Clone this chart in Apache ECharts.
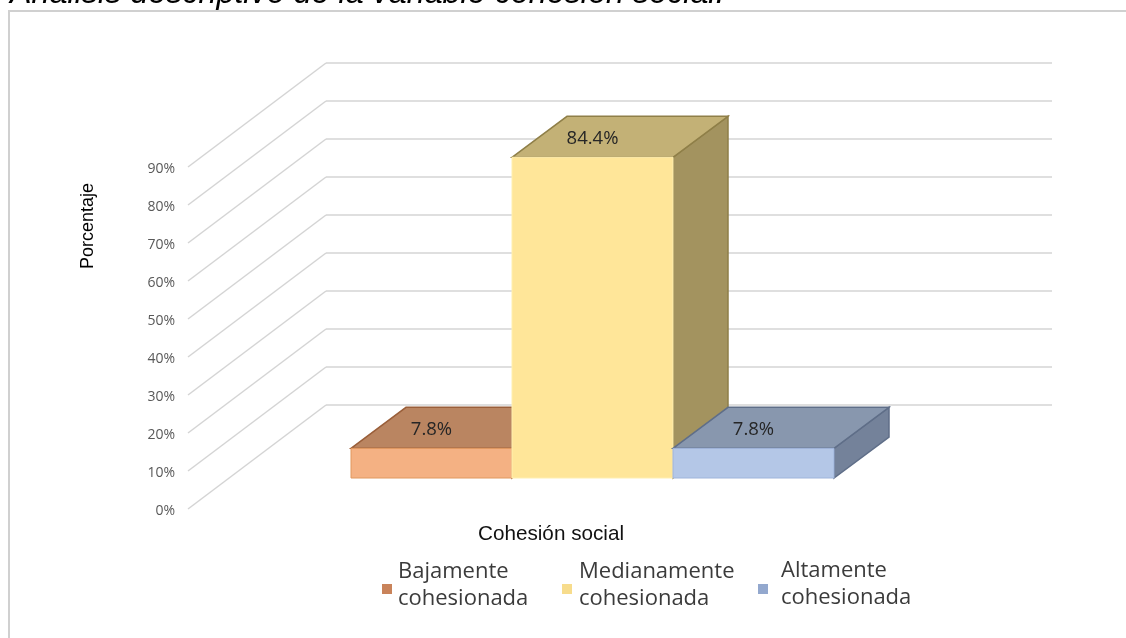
<!DOCTYPE html>
<html><head><meta charset="utf-8">
<style>html,body{margin:0;padding:0;background:#fff}#c{width:1126px;height:638px;filter:blur(0.4px)}</style>
<script src="https://cdn.jsdelivr.net/npm/echarts@6/dist/echarts.min.js"></script>
</head><body><div id="c"></div>
<script>
const titleText = 'Análisis descriptivo de la variable cohesión social.';
const xName = 'Cohesión social';
const yName = 'Porcentaje';
const categories = ['Bajamente cohesionada', 'Medianamente cohesionada', 'Altamente cohesionada'];
const values = [7.8, 84.4, 7.8];
const yTicks = [0, 10, 20, 30, 40, 50, 60, 70, 80, 90];
const frontColors = ['#F4B183', '#FFE699', '#B4C7E7'];
const topColors = ['#BA8561', '#C3B176', '#8897AE'];
const sideColors = ['#A36F4E', '#A3935F', '#74829A'];
const edgeColors = ['#9A5F3A', '#8F7F48', '#5F6E88'];
const frontEdge = ['#E0985F', '#FFEFB0', '#9FB4DA'];
const legendColors = ['#C9835A', '#F7DC8C', '#93A8CE'];
const legendLeft = [382, 562, 758];
const legendTop = [558.5, 558.5, 557];
const legendTextPad = [[0, 0, 0, 1], [0, 0, 0, 2], [0, 0, 0, 8]];
const legendIconH = [17, 17, 20];

const DX = 55, DY = -41, WALL_DX = 138, WALL_DY = -104;

function barRender(i) {
  return function (params, api) {
    const idx = api.value(0), v = api.value(1);
    const c = api.coord([idx, v]), b = api.coord([idx, 0]);
    const w = api.size([1, 0])[0];
    const l = c[0] - w / 2, r = c[0] + w / 2, t = c[1], y0 = b[1];
    return {
      type: 'group',
      children: [
        { type: 'polygon', shape: { points: [[r, t], [r + DX, t + DY], [r + DX, y0 + DY], [r, y0]] },
          style: { fill: sideColors[i], stroke: edgeColors[i], lineWidth: 1.5 } },
        { type: 'polygon', shape: { points: [[l, t], [l + DX, t + DY], [r + DX, t + DY], [r, t]] },
          style: { fill: topColors[i], stroke: edgeColors[i], lineWidth: 1.5 } },
        { type: 'rect', shape: { x: l, y: t, width: w, height: y0 - t },
          style: { fill: frontColors[i], stroke: frontEdge[i], lineWidth: 1 } },
        { type: 'text', x: c[0], y: t + DY / 2 + 2,
          style: { text: v.toFixed(1) + '%', fill: '#262626', font: '18.5px "Open Sans"', align: 'center', verticalAlign: 'middle' } }
      ]
    };
  };
}

const barSeries = categories.map((name, i) => ({
  type: 'custom', name, xAxisIndex: 2, yAxisIndex: 2,
  itemStyle: { color: legendColors[i] },
  renderItem: barRender(i),
  data: [[i, values[i]]],
  encode: { x: 0, y: 1 },
  z: 5
}));

const option = {
  animation: false,
  backgroundColor: '#fff',
  textStyle: { fontFamily: 'Liberation Sans' },
  grid: [
    { left: 188, width: 138, top: 167, height: 342 },
    { left: 326, width: 726, top: 63, height: 342 },
    { left: 351, width: 483, top: 136, height: 342 }
  ],
  xAxis: [
    { gridIndex: 0, type: 'value', min: 0, max: 1, show: false },
    { gridIndex: 1, type: 'value', min: 0, max: 1, show: false },
    { gridIndex: 2, type: 'category', data: categories, show: false }
  ],
  yAxis: [
    { gridIndex: 0, type: 'value', min: 0, max: 90, interval: 10,
      axisLine: { show: false }, axisTick: { show: false }, splitLine: { show: false },
      axisLabel: { formatter: '{a|{value}%}', margin: 13,
        rich: { a: { color: '#595959', fontFamily: 'Open Sans', fontSize: 14, padding: [4, 0, 0, 0] } } } },
    { gridIndex: 1, type: 'value', min: 0, max: 90, interval: 10,
      axisLine: { show: false }, axisTick: { show: false }, axisLabel: { show: false },
      splitLine: { show: true, lineStyle: { color: '#D4D4D4', width: 1.5 } } },
    { gridIndex: 2, type: 'value', min: 0, max: 90, show: false }
  ],
  title: [
    { text: xName, left: 546, top: 519, textAlign: 'center',
      textStyle: { fontSize: 20.7, fontWeight: 'normal', color: '#111', fontFamily: 'Liberation Sans' } }
  ],
  legend: categories.map((name, i) => ({
    data: [name], left: legendLeft[i], top: legendTop[i], orient: 'horizontal',
    icon: 'path://M0,0L0,0ZM0,' + (legendIconH[i] - 10) + 'H10V' + legendIconH[i] + 'H0Z',
    itemWidth: 10, itemHeight: legendIconH[i], selectedMode: false, padding: 0,
    formatter: n => n.replace(' ', '\n'),
    textStyle: { fontFamily: 'Open Sans', fontSize: 22, color: '#3B3B3B', lineHeight: 27, padding: legendTextPad[i] }
  })),
  graphic: [
    { type: 'rect', silent: true, shape: { x: 9, y: 11, width: 1300, height: 800 },
      style: { fill: 'none', stroke: '#D0D0D0', lineWidth: 2 } },
    { type: 'text', x: 10, y: 10, 
      style: { text: titleText, fill: '#000', font: 'italic 32.3px "Liberation Sans"', verticalAlign: 'bottom' } },
    { type: 'text', x: 88, y: 226, rotation: Math.PI / 2, 
      style: { text: yName, fill: '#000', font: '18px "Liberation Sans"', align: 'center', verticalAlign: 'middle' } }
  ],
  series: [
    { type: 'custom', xAxisIndex: 0, yAxisIndex: 0, silent: true, z: 1,
      data: yTicks.map(v => [0, v]), encode: { x: 0, y: 1 },
      renderItem: (p, api) => {
        const a = api.coord([api.value(0), api.value(1)]);
        return { type: 'line', shape: { x1: a[0], y1: a[1], x2: a[0] + WALL_DX, y2: a[1] + WALL_DY },
          style: { stroke: '#D4D4D4', lineWidth: 1.5 } };
      } },
    ...barSeries
  ]
};
const chart = echarts.init(document.getElementById('c'), null, { renderer: 'canvas' });
chart.setOption(option);
</script></body></html>
